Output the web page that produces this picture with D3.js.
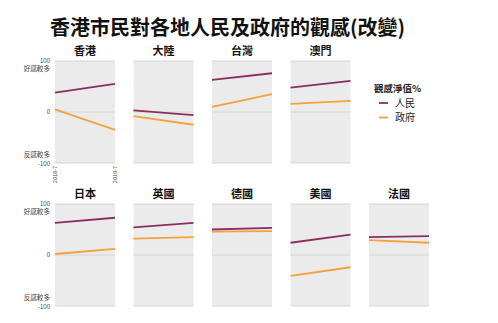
<!DOCTYPE html>
<html><head><meta charset="utf-8">
<script src="https://cdn.jsdelivr.net/npm/d3@7"></script>
<style>body{margin:0;background:#fff;}svg{display:block;font-family:"Noto Sans CJK TC","Noto Sans CJK SC",sans-serif;}</style>
</head><body>
<svg id="c" width="498" height="323"></svg>
<script>
const places = ["香港","大陸","台灣","澳門","日本","英國","德國","美國","法國"];
const years = ["2018-7","2019-7"];
const people = [[38,55],[3,-6],[63,76],[48,61],[63,73],[54,63],[50,53],[24,40],[35,37]];
const government = [[5,-35],[-8,-25],[10,35],[16,22],[2,12],[32,35],[46,47],[-41,-24],[29,24]];
const seriesNames = ["人民","政府"];
const colors = ["#8b2d62","#f5a03a"];
const title = "香港市民對各地人民及政府的觀感(改變)";
const legendTitle = "觀感淨值%";

const svg = d3.select("#c");
svg.append("text").attr("x",50).attr("y",35).attr("font-size",20).attr("font-weight","bold").attr("fill","#111").text(title);

const pw = 60, x0 = 55, step = 78.5;
const rowsTop = [61, 204], ph = 102;
const x = d3.scalePoint().domain(years).range([0,pw]);
const y = d3.scaleLinear().domain([-100,100]).range([ph,0]);

places.forEach((p,i)=>{
  const row = i<4?0:1, col = i<4?i:i-4;
  const g = svg.append("g").attr("transform",`translate(${x0+col*step},${rowsTop[row]})`);
  g.append("rect").attr("width",pw).attr("height",ph).attr("fill","#ebebeb");
  [100,0,-100].forEach(v=>g.append("line").attr("x1",0).attr("x2",pw).attr("y1",y(v)).attr("y2",y(v)).attr("stroke","#d6d6d6").attr("stroke-width",1));
  g.append("text").attr("x",pw/2).attr("y",-6).attr("text-anchor","middle").attr("font-size",11).attr("font-weight","bold").attr("fill","#111").text(p);
  const line = d3.line().x((d,j)=>x(years[j])).y(d=>y(d));
  [people[i],government[i]].forEach((s,k)=>{
    g.append("path").datum(s).attr("d",line).attr("fill","none").attr("stroke",colors[k]).attr("stroke-width",1.8);
  });
  if(col===0){
    const ax = g.append("g").attr("fill","#444").attr("text-anchor","end");
    ax.append("text").attr("x",-5).attr("y",y(100)+1.5).attr("font-size",6).text("100");
    ax.append("text").attr("x",-5).attr("y",y(100)+10).attr("font-size",6.6).text("好感較多");
    ax.append("text").attr("x",-5).attr("y",y(0)+2).attr("font-size",6).text("0");
    ax.append("text").attr("x",-5).attr("y",y(-100)-6.3).attr("font-size",6.6).text("反感較多");
    ax.append("text").attr("x",-5).attr("y",y(-100)+2.5).attr("font-size",6).text("-100");
  }
  if(i===0){
    years.forEach(yr=>{
      g.append("text").attr("transform",`translate(${x(yr)+2},${ph+3}) rotate(-90)`).attr("text-anchor","end").attr("font-size",5.5).attr("fill","#444").text(yr);
    });
  }
});

const lg = svg.append("g").attr("transform","translate(374,0)");
lg.append("text").attr("x",0).attr("y",92).attr("font-size",9.5).attr("font-weight","bold").attr("fill","#222").text(legendTitle);
seriesNames.forEach((n,k)=>{
  const yy = 103+k*14.5;
  lg.append("line").attr("x1",5).attr("x2",14).attr("y1",yy).attr("y2",yy).attr("stroke",colors[k]).attr("stroke-width",1.8);
  lg.append("text").attr("x",21).attr("y",yy+3.5).attr("font-size",10).attr("fill","#222").text(n);
});
</script>
</body></html>
